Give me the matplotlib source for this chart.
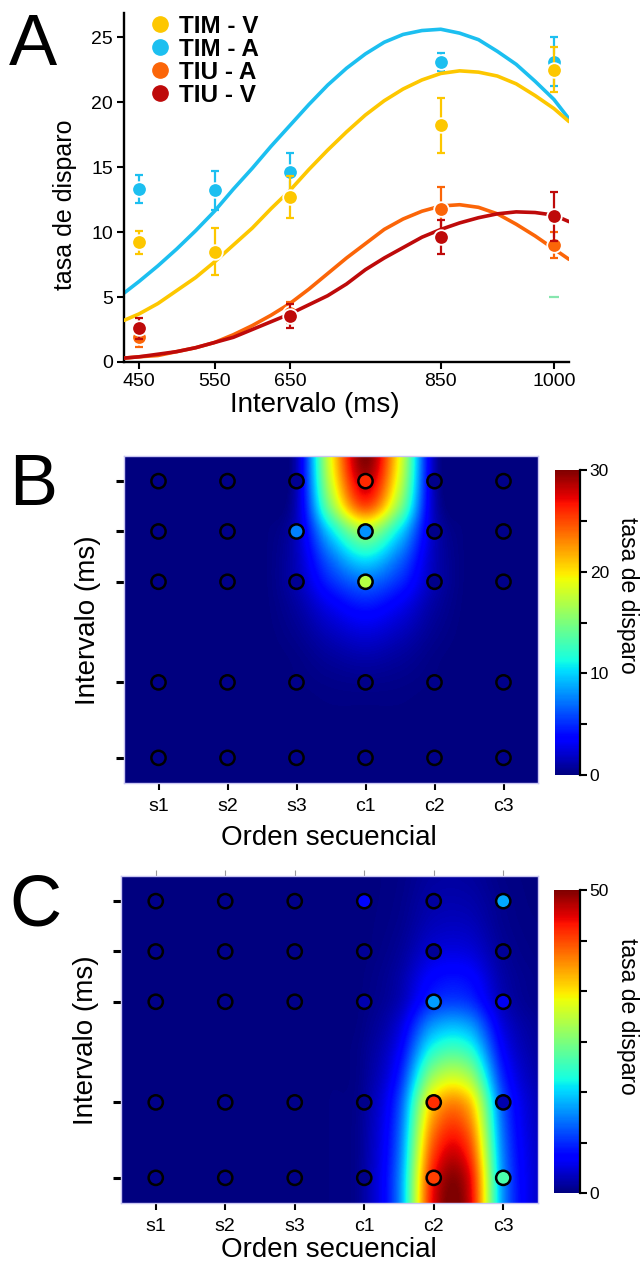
"""Tasa de disparo vs intervalo (A) y mapas intervalo x orden secuencial (B, C).

Salida: out.png (641x1272)
"""

from __future__ import annotations

import matplotlib

matplotlib.use("Agg")
import matplotlib.pyplot as plt
from matplotlib.lines import Line2D

plt.rcParams["font.family"] = ["Liberation Sans", "DejaVu Sans"]

# ---------------- Panel A: puntos medios +- error ----------------
INTERVALOS = [450, 550, 650, 850, 1000]
INTERVALOS_TIU = [450, 650, 850, 1000]

TIM_V = [9.2, 8.5, 12.7, 18.2, 22.5]
TIM_V_ERR = [0.9, 1.8, 1.6, 2.1, 1.7]
TIM_A = [13.3, 13.2, 14.6, 23.1, 23.1]
TIM_A_ERR = [1.1, 1.5, 1.5, 0.7, 1.9]
TIU_A = [1.9, 3.8, 11.8, 9.0]
TIU_A_ERR = [0.75, 0.8, 1.7, 1.0]
TIU_V = [2.6, 3.55, 9.6, 11.2]
TIU_V_ERR = [0.8, 0.9, 1.3, 1.9]

# marca verde suelta en 1000 ms
MARCA_VERDE = (1000, 5.0)

# curvas ajustadas
CURVA_X = [430, 450, 475, 500, 525, 550, 575, 600, 625, 650, 675, 700, 725,
           750, 775, 800, 825, 850, 875, 900, 925, 950, 975, 1000, 1020]
CURVA_TIM_A = [5.3, 6.2, 7.4, 8.7, 10.1, 11.6, 13.3, 14.9, 16.6, 18.2, 19.8,
               21.3, 22.6, 23.7, 24.6, 25.2, 25.5, 25.6, 25.3, 24.8, 23.9,
               22.9, 21.6, 20.2, 18.7]
CURVA_TIM_V = [3.2, 3.7, 4.5, 5.5, 6.5, 7.7, 9.0, 10.3, 11.8, 13.2, 14.8,
               16.3, 17.7, 19.0, 20.1, 21.0, 21.7, 22.2, 22.4, 22.3, 22.0,
               21.4, 20.5, 19.5, 18.5]
CURVA_TIU_A = [0.3, 0.4, 0.5, 0.8, 1.1, 1.5, 2.1, 2.8, 3.6, 4.5, 5.6, 6.8,
               8.0, 9.1, 10.2, 11.0, 11.6, 12.0, 12.1, 11.9, 11.4, 10.6, 9.7,
               8.7, 7.9]
CURVA_TIU_V = [0.3, 0.4, 0.6, 0.8, 1.1, 1.5, 1.9, 2.5, 3.1, 3.7, 4.4, 5.1,
               6.0, 7.1, 8.0, 8.8, 9.6, 10.2, 10.7, 11.1, 11.4, 11.55, 11.5,
               11.3, 10.8]

COLORES = {
    "TIM - V": "#FDC700",
    "TIM - A": "#1CBFF0",
    "TIU - A": "#FB6508",
    "TIU - V": "#BE0A0A",
}

# ---------------- Paneles B y C ----------------
ORDEN = ["s1", "s2", "s3", "c1", "c2", "c3"]

# malla del mapa suavizado: columnas (en unidades de orden) y filas (ms)
MALLA_X = [-0.5, 0.0, 0.5, 1.0, 1.5, 2.0, 2.5, 3.0, 3.5, 4.0, 4.5, 5.0, 5.5]
MALLA_Y = [400, 450, 500, 550, 600, 650, 700, 750, 800, 850, 900, 950, 1000, 1050]

MAPA_B = [
    [0, 0, 0, 0, 0, 1.5, 19.0, 30.0, 19.0, 1.5, 0, 0, 0],
    [0, 0, 0, 0, 0, 1.5, 18.0, 28.5, 18.0, 1.5, 0, 0, 0],
    [0, 0, 0, 0, 0, 1.6, 15.5, 25.0, 15.5, 1.6, 0, 0, 0],
    [0, 0, 0, 0, 0, 1.7, 10.5, 16.5, 10.5, 1.7, 0, 0, 0],
    [0, 0, 0, 0, 0, 1.6, 7.2, 11.0, 7.2, 1.6, 0, 0, 0],
    [0, 0, 0, 0, 0, 1.4, 5.0, 7.0, 5.0, 1.4, 0, 0, 0],
    [0, 0, 0, 0, 0, 0.9, 3.0, 4.3, 3.0, 0.9, 0, 0, 0],
    [0, 0, 0, 0, 0, 0.5, 1.7, 2.5, 1.7, 0.5, 0, 0, 0],
    [0, 0, 0, 0, 0, 0.2, 0.8, 1.2, 0.8, 0.2, 0, 0, 0],
    [0, 0, 0, 0, 0, 0.1, 0.3, 0.4, 0.3, 0.1, 0, 0, 0],
    [0, 0, 0, 0, 0, 0, 0.1, 0.1, 0.1, 0, 0, 0, 0],
    [0, 0, 0, 0, 0, 0, 0, 0, 0, 0, 0, 0, 0],
    [0, 0, 0, 0, 0, 0, 0, 0, 0, 0, 0, 0, 0],
    [0, 0, 0, 0, 0, 0, 0, 0, 0, 0, 0, 0, 0],
]

MAPA_C = [
    [0, 0, 0, 0, 0, 0, 0, 0.1, 0.4, 1.4, 1.4, 0.4, 0.1],
    [0, 0, 0, 0, 0, 0, 0, 0.1, 0.5, 1.9, 1.9, 0.6, 0.1],
    [0, 0, 0, 0, 0, 0, 0, 0.1, 0.7, 2.6, 2.7, 0.8, 0.2],
    [0, 0, 0, 0, 0, 0, 0, 0.1, 1.1, 3.9, 4.0, 1.2, 0.3],
    [0, 0, 0, 0, 0, 0, 0, 0.2, 1.7, 6.0, 6.2, 1.8, 0.5],
    [0, 0, 0, 0, 0, 0, 0, 0.3, 2.3, 8.4, 8.6, 2.5, 0.6],
    [0, 0, 0, 0, 0, 0, 0.1, 0.5, 3.9, 14.0, 14.4, 4.2, 1.1],
    [0, 0, 0, 0, 0, 0, 0.1, 0.8, 5.6, 20.0, 20.6, 6.0, 1.5],
    [0, 0, 0, 0, 0, 0, 0.1, 1.0, 7.5, 27.0, 27.8, 8.1, 2.0],
    [0, 0, 0, 0, 0, 0, 0.2, 1.3, 9.6, 34.4, 35.5, 10.4, 2.6],
    [0, 0, 0, 0, 0, 0, 0.2, 1.5, 10.8, 38.6, 39.8, 11.6, 2.9],
    [0, 0, 0, 0, 0, 0, 0.2, 1.6, 11.7, 41.9, 43.2, 12.6, 3.2],
    [0, 0, 0, 0, 0, 0, 0.2, 1.7, 12.5, 44.6, 46.1, 13.4, 3.4],
    [0, 0, 0, 0, 0, 0, 0.2, 1.7, 12.7, 45.6, 47.0, 13.7, 3.4],
]

# tasa medida en cada celda (filas = INTERVALOS, columnas = ORDEN)
PUNTOS_B = [
    [0.3, 0.3, 0.5, 26.0, 0.3, 0.3],
    [0.3, 0.3, 7.5, 8.0, 0.3, 0.3],
    [0.3, 0.3, 0.5, 17.0, 0.3, 0.3],
    [0.3, 0.3, 0.3, 0.3, 0.3, 0.3],
    [0.3, 0.3, 0.3, 0.3, 0.3, 0.3],
]
PUNTOS_C = [
    [0.5, 0.5, 0.5, 6.5, 1.5, 14.5],
    [0.5, 0.5, 0.5, 1.0, 1.0, 1.0],
    [0.5, 0.5, 0.5, 2.0, 14.0, 5.0],
    [0.5, 0.5, 0.5, 0.5, 43.0, 2.0],
    [0.5, 0.5, 0.5, 0.5, 42.0, 22.0],
]

W, H = 641, 1272


def fx(px):
    return px / W


def fy(py):
    return 1 - py / H


def panel_a(fig):
    ax = fig.add_axes([fx(124), fy(362), fx(569) - fx(124), fy(13) - fy(362)])

    series = [
        ("TIM - A", INTERVALOS, TIM_A, TIM_A_ERR, CURVA_TIM_A),
        ("TIM - V", INTERVALOS, TIM_V, TIM_V_ERR, CURVA_TIM_V),
        ("TIU - A", INTERVALOS_TIU, TIU_A, TIU_A_ERR, CURVA_TIU_A),
        ("TIU - V", INTERVALOS_TIU, TIU_V, TIU_V_ERR, CURVA_TIU_V),
    ]
    for k, (name, xs, ys, err, curva) in enumerate(series):
        col = COLORES[name]
        z = 2 + 3 * k
        ax.plot(CURVA_X, curva, color=col, lw=2.6, zorder=z,
                solid_capstyle="round", solid_joinstyle="round")
        ax.errorbar(xs, ys, yerr=err, fmt="none", ecolor=col, elinewidth=1.6,
                    capsize=3.2, capthick=1.6, zorder=z + 1)
        ax.plot(xs, ys, "o", ms=10.5, mfc=col, mec="white", mew=1.3, zorder=z + 2)

    ax.plot([MARCA_VERDE[0]], [MARCA_VERDE[1]], marker="_", ms=7, mew=1.6,
            color="#86E6AE", zorder=2)

    ax.set_xlim(430, 1020)
    ax.set_ylim(0, 26.85)
    ax.set_xticks(INTERVALOS)
    ax.set_yticks([0, 5, 10, 15, 20, 25])
    ax.tick_params(direction="out", length=5, width=1.5, labelsize=14, pad=3)
    for side in ("top", "right"):
        ax.spines[side].set_visible(False)
    for side in ("left", "bottom"):
        ax.spines[side].set_linewidth(1.7)

    handles = [
        Line2D([0], [0], marker="o", ls="none", ms=11, mfc=COLORES[n], mec=COLORES[n],
               label=n)
        for n in ("TIM - V", "TIM - A", "TIU - A", "TIU - V")
    ]
    ax.legend(handles=handles, loc="upper left", bbox_to_anchor=(0.06, 0.995),
              frameon=False, borderpad=0, borderaxespad=0, handlelength=0.8,
              handletextpad=0.35, labelspacing=0.0,
              prop={"weight": "bold", "size": 17.5})

    fig.text(fx(65), fy(205), "tasa de disparo", rotation=90, ha="center",
             va="center", fontsize=18)
    fig.text(fx(315), fy(405), "Intervalo (ms)", ha="center", va="center",
             fontsize=20)


def mapa(fig, rect, cbar_rect, malla, puntos, vmax, cticks, clabels, top_ticks):
    ax = fig.add_axes(rect)
    dx = (MALLA_X[1] - MALLA_X[0]) / 2
    dy = (MALLA_Y[1] - MALLA_Y[0]) / 2
    im = ax.imshow(malla, cmap="jet", vmin=0, vmax=vmax, aspect="auto",
                   interpolation="catrom", interpolation_stage="data",
                   origin="upper",
                   extent=(MALLA_X[0] - dx, MALLA_X[-1] + dx,
                           MALLA_Y[-1] + dy, MALLA_Y[0] - dy))

    xs, ys, vals = [], [], []
    for i, fila in enumerate(puntos):
        for j, v in enumerate(fila):
            xs.append(j)
            ys.append(INTERVALOS[i])
            vals.append(v)
    ax.scatter(xs, ys, c=vals, cmap="jet", vmin=0, vmax=vmax, s=105,
               edgecolors="black", linewidths=1.8, zorder=3)

    ax.set_xlim(-0.5, 5.5)
    ax.set_ylim(1050, 400)
    ax.set_xticks(range(len(ORDEN)))
    ax.set_xticklabels(ORDEN)
    ax.set_yticks(INTERVALOS)
    ax.set_yticklabels([])
    ax.tick_params(axis="x", direction="out", length=5, width=1.5, labelsize=14, pad=6)
    ax.tick_params(axis="y", direction="out", length=6, width=2.2)
    for sp in ax.spines.values():
        sp.set_color("#C9C6F2")
        sp.set_linewidth(1.0)

    if top_ticks:
        sec = ax.secondary_xaxis("top")
        sec.set_xticks(range(len(ORDEN)))
        sec.set_xticklabels([])
        sec.tick_params(length=4, width=0.8, color="#9A9A9A")
        sec.spines["top"].set_visible(False)

    cax = fig.add_axes(cbar_rect)
    cb = fig.colorbar(im, cax=cax, ticks=cticks)
    cb.ax.set_yticklabels(clabels)
    cb.outline.set_visible(False)
    cax.plot([1, 1], [0, 1], transform=cax.transAxes, color="black", lw=1.6,
             clip_on=False)
    cax.tick_params(length=5, width=1.5, labelsize=12.5, pad=2)
    return ax


def main() -> None:
    fig = plt.figure(figsize=(W / 100, H / 100), dpi=100)

    panel_a(fig)

    # B
    mapa(fig,
         [fx(124), fy(783), fx(538) - fx(124), fy(456) - fy(783)],
         [fx(555), fy(775), fx(580) - fx(555), fy(470) - fy(775)],
         MAPA_B, PUNTOS_B, 30, [0, 5, 10, 15, 20, 25, 30],
         ["0", "", "10", "", "20", "", "30"], top_ticks=False)
    fig.text(fx(329), fy(838), "Orden secuencial", ha="center", va="center", fontsize=20)
    fig.text(fx(88), fy(620), "Intervalo (ms)", rotation=90, ha="center",
             va="center", fontsize=20)
    fig.text(fx(627), fy(595), "tasa de disparo", rotation=270, ha="center",
             va="center", fontsize=16.5)

    # C
    ctk = [0, 50 / 6, 100 / 6, 25, 200 / 6, 250 / 6, 50]
    mapa(fig,
         [fx(121), fy(1203), fx(538) - fx(121), fy(876) - fy(1203)],
         [fx(554), fy(1193), fx(580) - fx(554), fy(890) - fy(1193)],
         MAPA_C, PUNTOS_C, 50, ctk,
         ["0", "", "", "", "", "", "50"], top_ticks=True)
    fig.text(fx(329), fy(1250), "Orden secuencial", ha="center", va="center", fontsize=20)
    fig.text(fx(86), fy(1040), "Intervalo (ms)", rotation=90, ha="center",
             va="center", fontsize=20)
    fig.text(fx(627), fy(1016), "tasa de disparo", rotation=270, ha="center",
             va="center", fontsize=16.5)

    # letras de panel
    for letra, base in (("A", 65), ("B", 505), ("C", 925)):
        fig.text(fx(9), fy(base), letra, fontsize=52, va="baseline", ha="left")

    fig.savefig("out.png", dpi=100, facecolor="white")


if __name__ == "__main__":
    main()
